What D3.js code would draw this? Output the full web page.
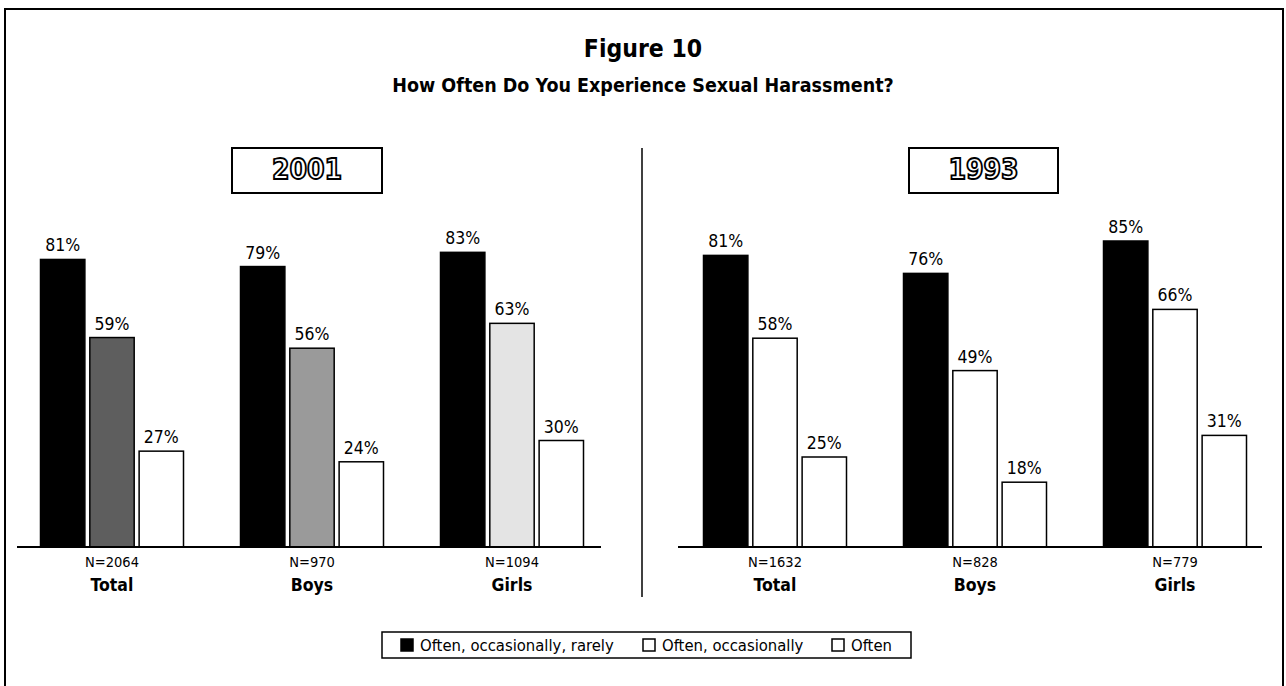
<!DOCTYPE html>
<html>
<head>
<meta charset="utf-8">
<script src="https://cdn.jsdelivr.net/npm/d3@7"></script>
<style>
  html, body { margin: 0; padding: 0; background: #fff; }
  svg { display: block; }
  text { font-family: "DejaVu Sans Condensed", "DejaVu Sans", sans-serif; fill: #000; }
</style>
</head>
<body>
<script>
// ---- data ----
const groups = ["Total", "Boys", "Girls"];
const series = ["Often, occasionally, rarely", "Often, occasionally", "Often"];
const values2001 = [[81, 59, 27], [79, 56, 24], [83, 63, 30]];
const values1993 = [[81, 58, 25], [76, 49, 18], [85, 66, 31]];
const n2001 = ["N=2064", "N=970", "N=1094"];
const n1993 = ["N=1632", "N=828", "N=779"];
const years = ["2001", "1993"];
const title = "Figure 10";
const subtitle = "How Often Do You Experience Sexual Harassment?";

const W = 1286, H = 686;
const svg = d3.select("body").append("svg").attr("width", W).attr("height", H);

// outer frame
svg.append("path")
  .attr("d", `M5,${H + 5} L5,9 L1283,9 L1283,${H + 5}`)
  .attr("fill", "none").attr("stroke", "#000").attr("stroke-width", 2);

svg.append("text").attr("x", 643).attr("y", 57).attr("text-anchor", "middle")
  .attr("font-size", 24.5).attr("font-weight", "bold").text(title);
svg.append("text").attr("x", 643).attr("y", 92).attr("text-anchor", "middle")
  .attr("font-size", 19.5).attr("font-weight", "bold").text(subtitle);

// divider
svg.append("line").attr("x1", 642).attr("x2", 642).attr("y1", 148).attr("y2", 597)
  .attr("stroke", "#000").attr("stroke-width", 1.5);

const fills = {
  "2001": [["#000", "#5e5e5e", "#fff"], ["#000", "#9a9a9a", "#fff"], ["#000", "#e4e4e4", "#fff"]],
  "1993": [["#000", "#fff", "#fff"], ["#000", "#fff", "#fff"], ["#000", "#fff", "#fff"]]
};

const panels = [
  { year: years[0], vals: values2001, ns: n2001, range: [12, 612], yTop: 192, base: [17, 601], box: [232, 382] },
  { year: years[1], vals: values1993, ns: n1993, range: [675, 1275], yTop: 187, base: [678, 1262], box: [909, 1058] }
];

const baseY = 547;

panels.forEach(p => {
  const g = svg.append("g");
  const x0 = d3.scaleBand().domain(groups).range(p.range).paddingInner(0.285).paddingOuter(0.1425);
  const x1 = d3.scaleBand().domain(series).range([0, x0.bandwidth()]).paddingInner(0.1);
  const y = d3.scaleLinear().domain([0, 100]).range([baseY, p.yTop]);

  // year box
  g.append("rect").attr("x", p.box[0]).attr("y", 148).attr("width", p.box[1] - p.box[0]).attr("height", 45)
    .attr("fill", "#fff").attr("stroke", "#000").attr("stroke-width", 2);
  g.append("text").attr("x", (p.box[0] + p.box[1]) / 2).attr("y", 179).attr("text-anchor", "middle")
    .attr("font-family", "DejaVu Sans").attr("font-weight", "bold").attr("font-size", 28)
    .style("fill", "#fff").attr("stroke", "#000").attr("stroke-width", 1.8).text(p.year);

  groups.forEach((grp, gi) => {
    const gg = g.append("g").attr("transform", `translate(${x0(grp)},0)`);
    gg.selectAll("rect").data(series).join("rect")
      .attr("x", s => x1(s))
      .attr("y", (s, si) => y(p.vals[gi][si]))
      .attr("width", x1.bandwidth())
      .attr("height", (s, si) => baseY - y(p.vals[gi][si]))
      .attr("fill", (s, si) => fills[p.year][gi][si])
      .attr("stroke", "#000").attr("stroke-width", 1.5);
    gg.selectAll("text.val").data(series).join("text").attr("class", "val")
      .attr("x", s => x1(s) + x1.bandwidth() / 2)
      .attr("y", (s, si) => y(p.vals[gi][si]) - 8)
      .attr("text-anchor", "middle").attr("font-size", 17.5)
      .text((s, si) => p.vals[gi][si] + "%");
    const cx = x0(grp) + x0.bandwidth() / 2;
    g.append("text").attr("x", cx).attr("y", 567).attr("text-anchor", "middle")
      .attr("font-size", 14.5).text(p.ns[gi]);
    g.append("text").attr("x", cx).attr("y", 591).attr("text-anchor", "middle")
      .attr("font-size", 17.5).attr("font-weight", "bold").text(grp);
  });

  g.append("line").attr("x1", p.base[0]).attr("x2", p.base[1]).attr("y1", baseY).attr("y2", baseY)
    .attr("stroke", "#000").attr("stroke-width", 2);
});

// legend
const lg = svg.append("g");
lg.append("rect").attr("x", 382).attr("y", 632).attr("width", 529).attr("height", 26)
  .attr("fill", "#fff").attr("stroke", "#000").attr("stroke-width", 1.5);
const legendX = [401, 643, 832];
series.forEach((s, i) => {
  lg.append("rect").attr("x", legendX[i]).attr("y", 639).attr("width", 12).attr("height", 12)
    .attr("fill", i === 0 ? "#000" : "#fff").attr("stroke", "#000").attr("stroke-width", 1.5);
  lg.append("text").attr("x", legendX[i] + 19).attr("y", 651).attr("font-size", 16.5).text(s);
});
</script>
</body>
</html>
